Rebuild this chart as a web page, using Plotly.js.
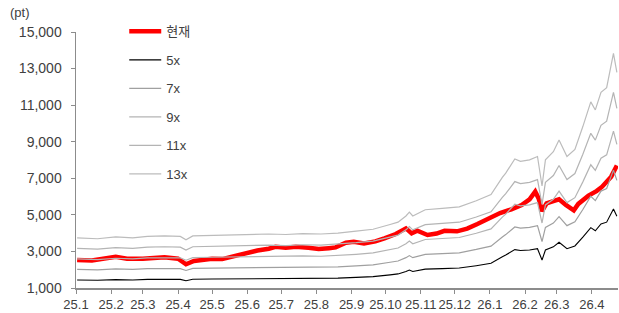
<!DOCTYPE html>
<html>
<head>
<meta charset="utf-8">
<script src="https://cdn.plot.ly/plotly-3.0.1.min.js"></script>
<style>
html,body{margin:0;padding:0;background:#fff;}
#chart{width:619px;height:313px;}
</style>
</head>
<body>
<div id="chart"></div>
<script>
// ---- data ----
const bandDates = ['2025-01-02','2025-01-20','2025-02-05','2025-02-20','2025-03-05','2025-03-20','2025-04-03','2025-04-08','2025-04-14','2025-05-01',
 '2025-05-20','2025-06-05','2025-06-20','2025-07-05','2025-07-20','2025-08-05','2025-08-20','2025-09-05','2025-09-20','2025-10-05',
 '2025-10-12','2025-10-19','2025-10-22','2025-10-25','2025-11-05','2025-11-20','2025-12-05','2025-12-20','2026-01-02','2026-01-12',
 '2026-01-15','2026-01-23','2026-01-28','2026-02-05','2026-02-12','2026-02-16','2026-02-19','2026-02-26','2026-03-03','2026-03-10',
 '2026-03-17','2026-03-24','2026-03-31','2026-04-04','2026-04-09','2026-04-14','2026-04-17','2026-04-20','2026-04-23'];
const band5x = [1440,1420,1460,1440,1470,1480,1470,1400,1480,1490,
 1500,1510,1520,1510,1530,1520,1540,1580,1620,1720,
 1770,1900,1980,1900,2030,2060,2090,2220,2350,2710,
 2800,3100,3050,3080,3150,2530,3080,3250,3500,3150,
 3300,3780,4300,4130,4500,4600,4950,5320,4920];
const band7x = [2016,1988,2044,2016,2058,2072,2058,1960,2072,2086,
 2100,2114,2128,2114,2142,2128,2156,2212,2268,2408,
 2478,2660,2772,2660,2842,2884,2926,3108,3290,3794,
 3920,4340,4270,4312,4410,3542,4312,4550,4900,4410,
 4620,5292,6020,5782,6300,6440,6930,7448,6888];
const band9x = [2592,2556,2628,2592,2646,2664,2646,2520,2664,2682,
 2700,2718,2736,2718,2754,2736,2772,2844,2916,3096,
 3186,3420,3564,3420,3654,3708,3762,3996,4230,4878,
 5040,5580,5490,5544,5670,4554,5544,5850,6300,5670,
 5940,6804,7740,7434,8100,8280,8910,9576,8856];
const band11x = [3168,3124,3212,3168,3234,3256,3234,3080,3256,3278,
 3300,3322,3344,3322,3366,3344,3388,3476,3564,3784,
 3894,4180,4356,4180,4466,4532,4598,4884,5170,5962,
 6160,6820,6710,6776,6930,5566,6776,7150,7700,6930,
 7260,8316,9460,9086,9900,10120,10890,11704,10824];
const band13x = [3744,3692,3796,3744,3822,3848,3822,3640,3848,3874,
 3900,3926,3952,3926,3978,3952,4004,4108,4212,4472,
 4602,4940,5148,4940,5278,5356,5434,5772,6110,7046,
 7280,8060,7930,8008,8190,6578,8008,8450,9100,8190,
 8580,9828,11180,10738,11700,11960,12870,13832,12792];

const currentDates = ['2025-01-02','2025-01-15','2025-02-05','2025-02-15','2025-03-01','2025-03-20','2025-04-01','2025-04-08','2025-04-15','2025-05-01',
 '2025-05-10','2025-05-20','2025-06-01','2025-06-10','2025-06-20','2025-06-26','2025-07-05','2025-07-14','2025-07-25','2025-08-03',
 '2025-08-12','2025-08-18','2025-08-27','2025-09-03','2025-09-12','2025-09-22','2025-09-30','2025-10-10','2025-10-19','2025-10-24',
 '2025-10-29','2025-11-07','2025-11-15','2025-11-22','2025-12-03','2025-12-12','2025-12-21','2026-01-02','2026-01-10','2026-01-17',
 '2026-01-20','2026-01-29','2026-02-05','2026-02-10','2026-02-13','2026-02-16','2026-02-20','2026-02-26','2026-03-03','2026-03-09',
 '2026-03-16','2026-03-20','2026-03-29','2026-04-05','2026-04-10','2026-04-18','2026-04-23'];
const currentValues = [2530,2500,2710,2600,2600,2680,2600,2300,2480,2600,
 2580,2750,2950,3050,3150,3250,3200,3260,3200,3130,
 3180,3220,3480,3530,3440,3550,3720,3950,4260,3990,
 4130,3900,3980,4130,4100,4250,4500,4900,5100,5250,
 5300,5540,5850,6270,5900,5200,5630,5750,5850,5540,
 5250,5600,6050,6300,6540,7090,7700];

const tickDates = ['2025-01-01','2025-02-01','2025-03-01','2025-04-01','2025-05-01','2025-06-01','2025-07-01','2025-08-01',
 '2025-09-01','2025-10-01','2025-11-01','2025-12-01','2026-01-01','2026-02-01','2026-03-01','2026-04-01'];
const tickLabels = ['25.1','25.2','25.3','25.4','25.5','25.6','25.7','25.8','25.9','25.10','25.11','25.12','26.1','26.2','26.3','26.4'];
const yTicks = [1000,3000,5000,7000,9000,11000,13000,15000];

const FONT = 'Liberation Sans, Arial, Noto Sans CJK KR, sans-serif';

function band(name, y, color, width){
  return {type:'scatter', mode:'lines', name:name, legendgroup:name, x:bandDates, y:y,
    line:{color:color, width:width}, hoverinfo:'skip'};
}

const traces = [
  {type:'scatter', mode:'lines', name:'현재', legendgroup:'현재', x:currentDates, y:currentValues,
   line:{color:'#ff0000', width:4.5}, hoverinfo:'skip'},
  band('5x', band5x, '#000000', 1.1),
  band('7x', band7x, '#a0a0a0', 1.2),
  band('9x', band9x, '#b4b4b4', 1.2),
  band('11x', band11x, '#b4b4b4', 1.2),
  band('13x', band13x, '#bcbcbc', 1.2)
];

const layout = {
  width:619, height:313,
  margin:{l:76, r:1, t:32, b:25, pad:0},
  paper_bgcolor:'#ffffff', plot_bgcolor:'#ffffff',
  font:{family:FONT, size:13, color:'#404040'},
  showlegend:true,
  legend:{x:0.089, y:1.061, xanchor:'left', yanchor:'top', bgcolor:'rgba(0,0,0,0)',
    font:{family:FONT, size:13, color:'#404040'}, tracegroupgap:8.6, itemwidth:32, maxheight:300},
  xaxis:{type:'date', range:['2025-01-01','2026-04-24'], tickmode:'array', tickvals:tickDates, ticktext:tickLabels,
    showgrid:false, zeroline:false, showline:true, linecolor:'#8c8c8c', linewidth:1.5,
    ticks:'outside', ticklen:4, tickcolor:'#8c8c8c', tickwidth:1, tickangle:0,
    tickfont:{family:FONT, size:13, color:'#404040'}, fixedrange:true},
  yaxis:{range:[1000,15000], tickmode:'array', tickvals:yTicks, tickformat:',d',
    showgrid:false, zeroline:false, showline:true, linecolor:'#8c8c8c', linewidth:1.5,
    ticks:'outside', ticklen:4, tickcolor:'#8c8c8c', tickwidth:1, ticklabelstandoff:6,
    tickfont:{family:FONT, size:14, color:'#404040'}, fixedrange:true},
  annotations:[{text:'(pt)', xref:'paper', yref:'paper', x:-0.126, y:1.078, xanchor:'left', yanchor:'middle',
    showarrow:false, font:{family:FONT, size:13, color:'#404040'}}]
};

Plotly.newPlot('chart', traces, layout, {displayModeBar:false, staticPlot:true});
</script>
</body>
</html>
